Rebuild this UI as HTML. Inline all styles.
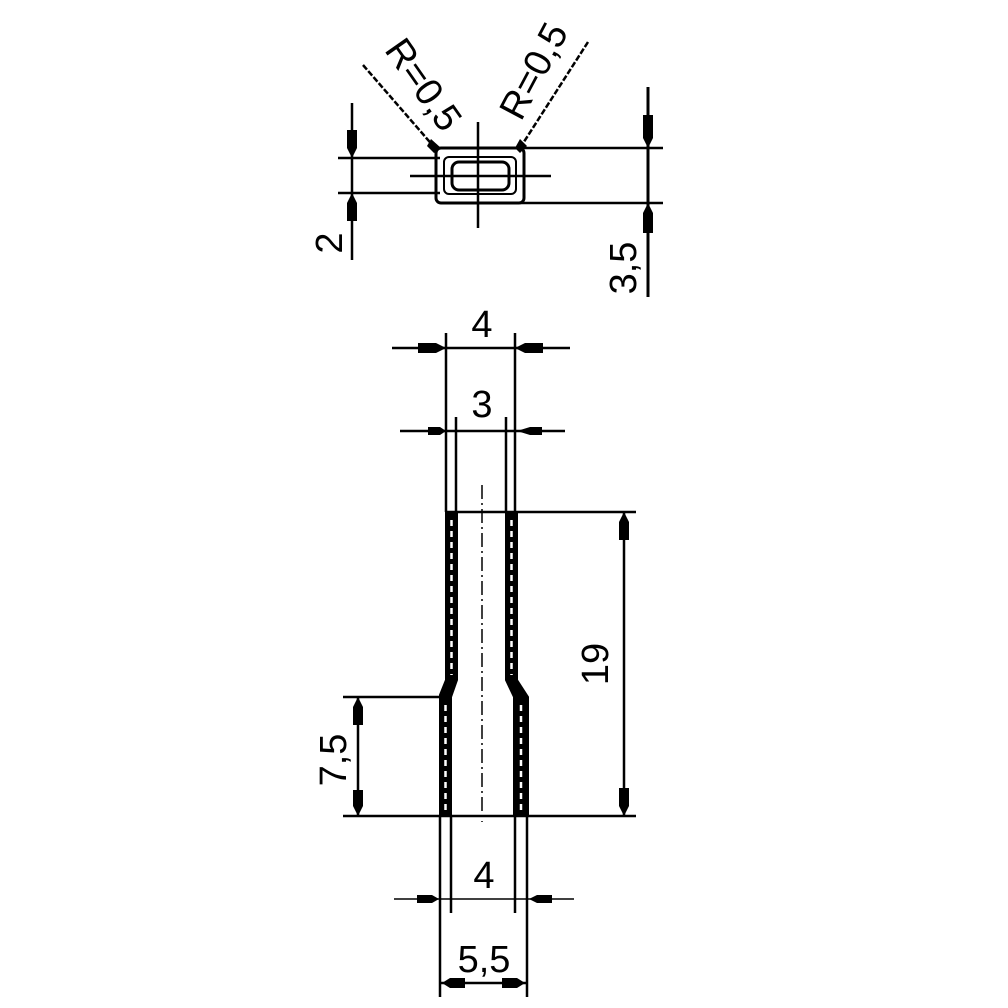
<!DOCTYPE html>
<html><head><style>body{margin:0;background:#fff}svg{display:block}text{font-family:"Liberation Sans",sans-serif;fill:#000}</style></head>
<body>
<svg width="1008" height="1008" viewBox="0 0 1008 1008" xmlns="http://www.w3.org/2000/svg">
<g stroke="#000" stroke-width="2.5" fill="none">
<!-- TOP VIEW -->
<rect x="436" y="148" width="88" height="55" rx="5" stroke-width="3"/>
<rect x="444" y="157" width="72" height="37" rx="5" stroke-width="2"/>
<rect x="452" y="162" width="57" height="28" rx="7" stroke-width="3"/>
<line x1="410" y1="176" x2="551" y2="176"/>
<line x1="478" y1="122" x2="478" y2="228"/>
<line x1="338" y1="158" x2="440" y2="158"/>
<line x1="338" y1="193" x2="440" y2="193"/>
<line x1="520" y1="148" x2="663" y2="148"/>
<line x1="520" y1="203" x2="663" y2="203"/>
<line x1="352" y1="103" x2="352" y2="260"/>
<line x1="648" y1="87" x2="648" y2="297" stroke-width="3"/>
<line x1="363" y1="65" x2="435" y2="148" stroke-dasharray="6 2"/>
<line x1="588" y1="42" x2="520" y2="148" stroke-dasharray="6 2"/>

<!-- SIDE VIEW -->
<line x1="446" y1="333" x2="446" y2="512"/>
<line x1="515" y1="333" x2="515" y2="512"/>
<line x1="456" y1="417" x2="456" y2="512"/>
<line x1="506" y1="417" x2="506" y2="512"/>
<line x1="392" y1="348" x2="570" y2="348"/>
<line x1="400" y1="431" x2="565" y2="431"/>
<line x1="446" y1="512" x2="636" y2="512"/>
<!-- tube walls filled -->
<path d="M446 512 V680 L440 695 V816 H451 V697 L457 680 V512 Z" fill="#000" stroke-width="2"/>
<path d="M506 512 V680 L514 697 V816 H528 V697 L517 680 V512 Z" fill="#000" stroke-width="2"/>
<path d="M451.5 520 V675 M511.5 520 V675 M445.5 705 V810 M521 705 V810" stroke="#fff" stroke-width="2.5" stroke-dasharray="6 5"/>
<line x1="482" y1="485" x2="482" y2="822" stroke-width="1.5" stroke-dasharray="14 4 2 4"/>
<line x1="343" y1="697" x2="440" y2="697"/>
<line x1="343" y1="816" x2="636" y2="816"/>
<line x1="358" y1="697" x2="358" y2="816"/>
<line x1="624" y1="512" x2="624" y2="816"/>
<line x1="440" y1="816" x2="440" y2="997"/>
<line x1="527" y1="816" x2="527" y2="997"/>
<line x1="451" y1="816" x2="451" y2="913"/>
<line x1="515" y1="816" x2="515" y2="913"/>
<line x1="394" y1="899" x2="574" y2="899" stroke-width="1.5"/>
<line x1="440" y1="983" x2="527" y2="983"/>
</g>
<g fill="#000">
<polygon points="347,130 357,130 357,148 352,158 347,148"/>
<polygon points="347,221 357,221 357,203 352,193 347,203"/>
<polygon points="643,115 653,115 653,138 648,148 643,138"/>
<polygon points="643,233 653,233 653,213 648,203 643,213"/>
<polygon points="431,139 441,148 434,153 427,146"/>
<polygon points="520,139 527,146 520,153 515,148"/>
<polygon points="418,343 436,343 446,348 436,353 418,353"/>
<polygon points="543,343 525,343 515,348 525,353 543,353"/>
<polygon points="428,427 440,427 446,431 440,435 428,435"/>
<polygon points="542,427 530,427 517,431 530,435 542,435"/>
<polygon points="619,540 629,540 629,522 624,512 619,522"/>
<polygon points="619,788 629,788 629,806 624,816 619,806"/>
<polygon points="353,725 363,725 363,707 358,697 353,707"/>
<polygon points="353,790 363,790 363,806 358,816 353,806"/>
<polygon points="417,895 432,895 439,899 432,903 417,903"/>
<polygon points="552,895 537,895 529,899 537,903 552,903"/>
<polygon points="442,983 450,978 465,978 465,988 450,988"/>
<polygon points="525,983 517,978 502,978 502,988 517,988"/>
</g>
<g font-size="38">
<text x="482" y="337" text-anchor="middle">4</text>
<text x="482" y="417" text-anchor="middle">3</text>
<text x="484" y="888" text-anchor="middle">4</text>
<text x="484" y="972" text-anchor="middle">5,5</text>
<text transform="translate(608,664) rotate(-90)" text-anchor="middle">19</text>
<text transform="translate(346,760) rotate(-90)" text-anchor="middle">7,5</text>
<text transform="translate(342,243) rotate(-90)" text-anchor="middle">2</text>
<text transform="translate(636,268) rotate(-90)" text-anchor="middle">3,5</text>
<text transform="translate(413,92) rotate(55)" text-anchor="middle">R=0,5</text>
<text transform="translate(545,77) rotate(-62)" text-anchor="middle">R=0,5</text>
</g>
</svg>
</body></html>
